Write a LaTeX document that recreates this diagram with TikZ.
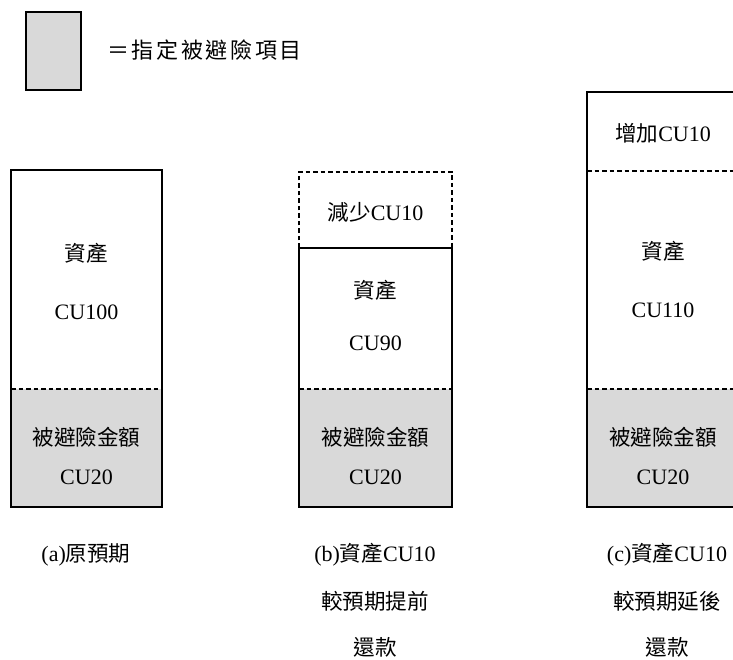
\documentclass[tikz,border=0pt]{standalone}
\usepackage{fontspec}
\setmainfont{Liberation Serif}
\newfontfamily\cjk[Scale=0.98]{Noto Sans CJK TC}
\newfontfamily\cjkwide[LetterSpace=12]{Noto Sans CJK TC}
\newcommand{\cj}[1]{{\cjk #1}}
\definecolor{hedge}{HTML}{D9D9D9}
\tikzset{
  box/.style={draw=black, line width=1.7pt},
  cut/.style={draw=black, line width=1.4pt, dash pattern=on 4.5pt off 3pt},
  lbl/.style={font=\fontsize{22}{24}\selectfont, inner sep=0pt, anchor=center},
}
\begin{document}
\begin{tikzpicture}[x=1pt, y=-1pt]
\useasboundingbox (0,0) rectangle (733,660);
\clip (0,0) rectangle (733,660);
\fill[white] (0,0) rectangle (733,660);
% legend
\draw[box, fill=hedge] (26,12) rectangle (81,90);
\node[lbl, anchor=west, font=\fontsize{22}{24}\selectfont] (legend) at (107,50) {\cjkwide ＝指定被避險項目};
% box a
\fill[hedge] (11,389) rectangle (162,507);
\draw[cut] (11,389) -- (162,389);
\draw[box] (11,170) rectangle (162,507);
\node[lbl] (aasset) at (86.5,253) {\cj{資產}};
\node[lbl] (aval) at (86.5,312) {CU100};
\node[lbl] (ahedge) at (86.5,437) {\cj{被避險金額}};
\node[lbl] (ahval) at (86.5,477) {CU20};
% box b
\draw[cut] (299,248) -- (299,172) -- (452,172) -- (452,248);
\fill[hedge] (299,389) rectangle (452,507);
\draw[cut] (299,389) -- (452,389);
\draw[box] (299,248) rectangle (452,507);
\node[lbl] (bdec) at (375.5,212) {\cj{減少}CU10};
\node[lbl] (basset) at (375.5,290) {\cj{資產}};
\node[lbl] (bval) at (375.5,343) {CU90};
\node[lbl] (bhedge) at (375.5,437) {\cj{被避險金額}};
\node[lbl] (bhval) at (375.5,477) {CU20};
% box c
\fill[hedge] (587,389) rectangle (741,507);
\draw[cut] (587,171) -- (741,171);
\draw[cut] (587,389) -- (741,389);
\draw[box] (587,92) rectangle (741,507);
\node[lbl] (cinc) at (663,133) {\cj{增加}CU10};
\node[lbl] (casset) at (663,251) {\cj{資產}};
\node[lbl] (cval) at (663,310) {CU110};
\node[lbl] (chedge) at (663,437) {\cj{被避險金額}};
\node[lbl] (chval) at (663,477) {CU20};
% captions
\node[lbl] (capa) at (86,555) {(a)\cj{原預期}};
\node[lbl] (capb1) at (375,555) {(b)\cj{資產}CU10};
\node[lbl] (capb2) at (375,601) {\cj{較預期提前}};
\node[lbl] (capb3) at (375,647) {\cj{還款}};
\node[lbl] (capc1) at (667,555) {(c)\cj{資產}CU10};
\node[lbl] (capc2) at (667,601) {\cj{較預期延後}};
\node[lbl] (capc3) at (667,647) {\cj{還款}};
\end{tikzpicture}
\end{document}
